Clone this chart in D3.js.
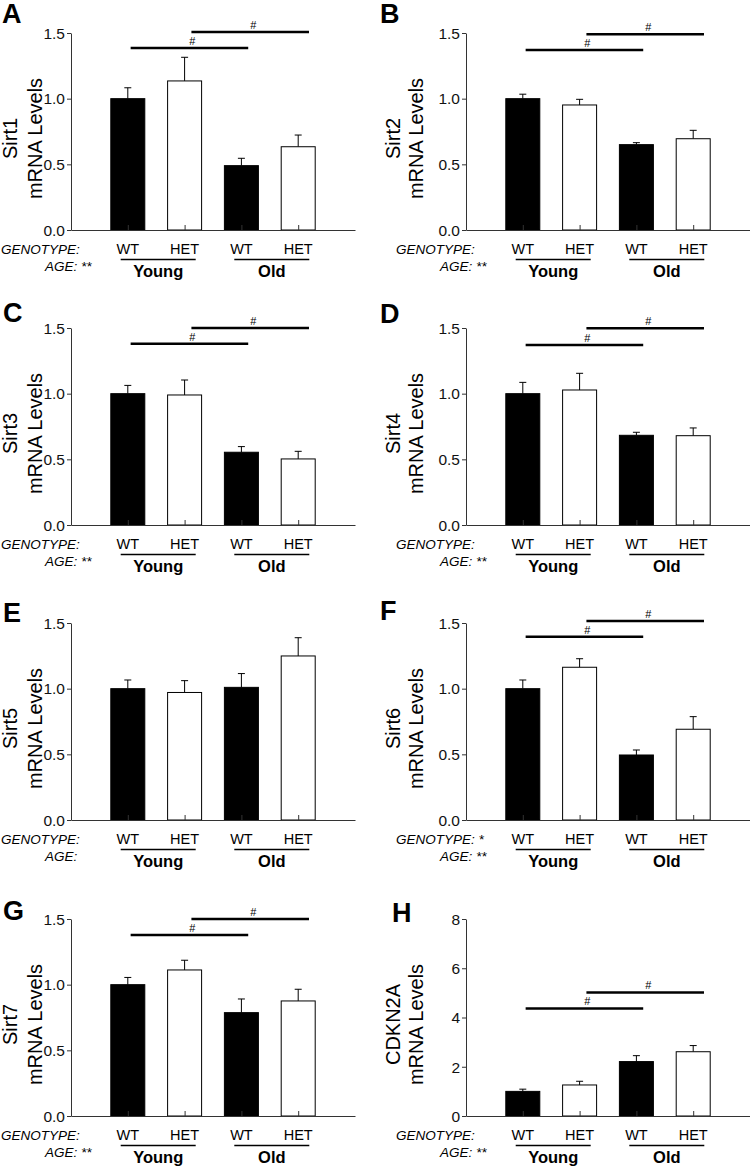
<!DOCTYPE html>
<html>
<head>
<meta charset="utf-8">
<script src="https://cdn.jsdelivr.net/npm/d3@7"></script>
<style>
  body { margin: 0; background: #fff; }
  svg { display: block; font-family: "Liberation Sans", Arial, sans-serif; }
</style>
</head>
<body>
<svg id="chart" width="750" height="1167"></svg>
<script>
// panel letters and genes
var panels = ["A", "B", "C", "D", "E", "F", "G", "H"];
var genes = ["Sirt1", "Sirt2", "Sirt3", "Sirt4", "Sirt5", "Sirt6", "Sirt7", "CDKN2A"];

// groups, in bar order
var genotypes = ["WT", "HET", "WT", "HET"];
var ages = ["Young", "Old"];

// mean mRNA levels (WT young, HET young, WT old, HET old)
var meansA = [1.00, 1.135, 0.49, 0.634];
var meansB = [1.00, 0.952, 0.65, 0.695];
var meansC = [1.00, 0.99, 0.554, 0.503];
var meansD = [1.00, 1.028, 0.683, 0.68];
var meansE = [1.00, 0.971, 1.01, 1.249];
var meansF = [1.00, 1.163, 0.495, 0.691];
var meansG = [1.00, 1.112, 0.787, 0.876];
var meansH = [1.00, 1.26, 2.21, 2.61];

// SEM
var semA = [0.083, 0.18, 0.056, 0.089];
var semB = [0.034, 0.043, 0.015, 0.064];
var semC = [0.063, 0.114, 0.043, 0.058];
var semD = [0.086, 0.127, 0.023, 0.059];
var semE = [0.066, 0.09, 0.105, 0.139];
var semF = [0.066, 0.065, 0.038, 0.096];
var semG = [0.055, 0.074, 0.104, 0.089];
var semH = [0.09, 0.15, 0.24, 0.25];

// heights of the two "#" bars (WT young vs WT old, HET young vs HET old)
var sigA = [1.386, 1.508];
var sigB = [1.37, 1.49];
var sigC = [1.381, 1.50];
var sigD = [1.371, 1.498];
var sigE = [];
var sigF = [1.396, 1.515];
var sigG = [1.379, 1.50];
var sigH = [4.37, 5.02];

// y axis max and ticks
var yMax = [1.5, 1.5, 1.5, 1.5, 1.5, 1.5, 1.5, 8];
var ticksSirt = [0, 0.5, 1.0, 1.5];
var ticksCdkn = [0, 2, 4, 6, 8];

// stars after the factor names
var genotypeStars = ["", "", "", "", "", "*", "", ""];
var ageStars = ["**", "**", "**", "**", "", "**", "**", "**"];

var means = [meansA, meansB, meansC, meansD, meansE, meansF, meansG, meansH];
var sems = [semA, semB, semC, semD, semE, semF, semG, semH];
var sigs = [sigA, sigB, sigC, sigD, sigE, sigF, sigG, sigH];

// layout
var colX = [71, 466];
var rowY = [33, 328, 623, 919];
var width = 284, height = 197, barW = 35;
var letterPos = [[2, 23], [380, 23], [3, 322], [380, 323], [3, 622], [380, 620], [3, 920], [392, 922]];
var axisColor = "#333";

var svg = d3.select("#chart");

panels.forEach(function(p, i) {
  var ox = colX[i % 2], oy = rowY[Math.floor(i / 2)];
  var right = i % 2 == 1;

  var g = svg.append("g").attr("transform", "translate(" + ox + "," + oy + ")");

  var x = d3.scaleLinear().domain([0, 5]).range([0, width]);
  var y = d3.scaleLinear().domain([0, yMax[i]]).range([height, 0]);

  var data = means[i].map(function(m, k) {
    return { pos: k + 1, mean: m, sem: sems[i][k], wt: genotypes[k] == "WT" };
  });

  // error bars (up only)
  g.selectAll(".err").data(data).enter().append("line")
    .attr("x1", function(d) { return x(d.pos); })
    .attr("x2", function(d) { return x(d.pos); })
    .attr("y1", function(d) { return y(d.mean); })
    .attr("y2", function(d) { return y(d.mean + d.sem); })
    .attr("stroke", "#000").attr("stroke-width", 1);
  g.selectAll(".cap").data(data).enter().append("line")
    .attr("x1", function(d) { return x(d.pos) - 3.5; })
    .attr("x2", function(d) { return x(d.pos) + 3.5; })
    .attr("y1", function(d) { return y(d.mean + d.sem); })
    .attr("y2", function(d) { return y(d.mean + d.sem); })
    .attr("stroke", "#000").attr("stroke-width", 1);

  // bars
  g.selectAll(".bar").data(data).enter().append("rect")
    .attr("x", function(d) { return x(d.pos) - barW / 2 + 0.5; })
    .attr("y", function(d) { return y(d.mean); })
    .attr("width", barW - 1)
    .attr("height", function(d) { return y(0) - y(d.mean); })
    .attr("fill", function(d) { return d.wt ? "#000" : "#fff"; })
    .attr("stroke", "#000").attr("stroke-width", 1);

  // axes
  var ticks = yMax[i] > 2 ? ticksCdkn : ticksSirt;
  g.append("g")
    .call(d3.axisLeft(y).tickValues(ticks).tickSize(4).tickSizeOuter(0)
      .tickFormat(yMax[i] > 2 ? d3.format("d") : d3.format(".1f")))
    .call(function(a) {
      a.select(".domain").attr("stroke", axisColor);
      a.selectAll("line").attr("stroke", axisColor);
      a.selectAll("text").attr("font-size", "15.5px").attr("fill", "#111")
        .attr("font-family", "Liberation Sans, Arial, sans-serif").attr("x", -6).attr("dy", "0.34em");
    });
  g.append("g")
    .attr("transform", "translate(0," + height + ")")
    .call(d3.axisBottom(x).tickValues([1, 2, 3, 4]).tickSize(-5).tickSizeOuter(0).tickFormat(""))
    .call(function(a) {
      a.select(".domain").attr("stroke", axisColor);
      a.selectAll("line").attr("stroke", axisColor);
    });

  // significance bars
  sigs[i].forEach(function(level, k) {
    var x0 = x(1.05 + k * 1.07), x1 = x(3.12 + k * 1.07);
    g.append("line")
      .attr("x1", x0).attr("x2", x1)
      .attr("y1", y(level)).attr("y2", y(level))
      .attr("stroke", "#000").attr("stroke-width", 2.5);
    g.append("text")
      .attr("x", (x0 + x1) / 2 + 3).attr("y", y(level) - 3)
      .attr("text-anchor", "middle").attr("font-size", "11px")
      .text("#");
  });

  // y label, two lines
  var l1 = right ? -66 : -54, l2 = right ? -43 : -29;
  var cy = height / 2 + 7;
  g.append("text")
    .attr("transform", "translate(" + l1 + "," + cy + ") rotate(-90)")
    .attr("text-anchor", "middle").attr("font-size", "20px")
    .text(genes[i]);
  g.append("text")
    .attr("transform", "translate(" + l2 + "," + cy + ") rotate(-90)")
    .attr("text-anchor", "middle").attr("font-size", "20px")
    .text("mRNA Levels");

  // genotype row
  g.selectAll(".geno").data(data).enter().append("text")
    .attr("x", function(d) { return x(d.pos); })
    .attr("y", height + 24)
    .attr("text-anchor", "middle").attr("font-size", "14.5px")
    .text(function(d, k) { return genotypes[k]; });

  // age groups with underline
  ages.forEach(function(a, k) {
    var cx = x(1.5 + 2 * k) + 2;
    g.append("line")
      .attr("x1", cx - 37.5).attr("x2", cx + 37.5)
      .attr("y1", height + 29.5).attr("y2", height + 29.5)
      .attr("stroke", "#000").attr("stroke-width", 1.3);
    g.append("text")
      .attr("x", cx).attr("y", height + 47)
      .attr("text-anchor", "middle").attr("font-size", "16.5px").attr("font-weight", "bold")
      .text(a);
  });

  // factor names
  var gt = g.append("text")
    .attr("x", -70).attr("y", height + 24)
    .attr("font-size", "13.5px").attr("font-style", "italic");
  gt.append("tspan").text("GENOTYPE:");
  if (genotypeStars[i]) gt.append("tspan").text(" " + genotypeStars[i]);

  var at = g.append("text")
    .attr("x", -26).attr("y", height + 41)
    .attr("font-size", "13.5px").attr("font-style", "italic");
  at.append("tspan").text("AGE:");
  if (ageStars[i]) at.append("tspan").text(" " + ageStars[i]);

  // panel letter
  svg.append("text")
    .attr("x", letterPos[i][0]).attr("y", letterPos[i][1])
    .attr("font-size", "27px").attr("font-weight", "bold")
    .text(p);
});
</script>
</body>
</html>
